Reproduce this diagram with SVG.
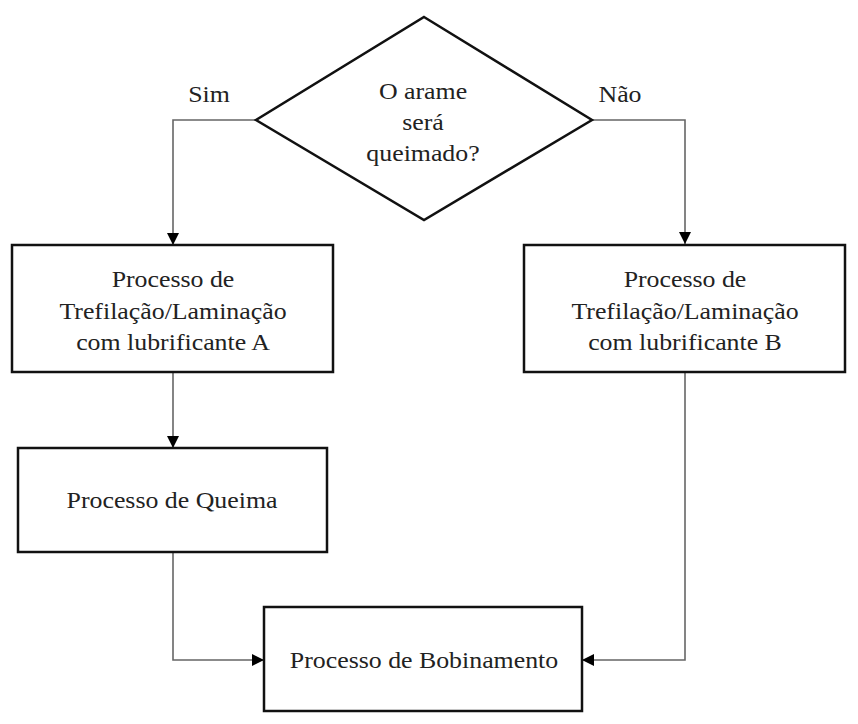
<svg xmlns="http://www.w3.org/2000/svg" width="858" height="724" viewBox="0 0 858 724">
<style>
.box{fill:#fff;stroke:#111;stroke-width:2.5}
.t{font-family:"Liberation Serif","Times New Roman",serif;font-size:23.5px;fill:#222;text-anchor:middle}
.c{fill:none;stroke:#666;stroke-width:1.6}
</style>
<defs>
<marker id="ah" viewBox="0 0 12 12" refX="12" refY="6" markerWidth="12" markerHeight="12" markerUnits="userSpaceOnUse" orient="auto">
<path d="M0,0 L12,6 L0,12 Z" fill="#000"/>
</marker>
</defs>
<rect width="858" height="724" fill="#fff"/>
<g id="connectors">
<polyline class="c" points="256,120 173,120 173,245" marker-end="url(#ah)"/>
<polyline class="c" points="592,120 685,120 685,244" marker-end="url(#ah)"/>
<polyline class="c" points="173,373 173,448" marker-end="url(#ah)"/>
<polyline class="c" points="173,552 173,660 264,660" marker-end="url(#ah)"/>
<polyline class="c" points="685,373 685,660 582,660" marker-end="url(#ah)"/>
</g>
<g id="decision">
<polygon class="box" points="424,17 592,120 424,220 256,120"/>
<text class="t" transform="translate(423,99) scale(1.1,1)">O arame</text>
<text class="t" transform="translate(423,130) scale(1.1,1)">será</text>
<text class="t" transform="translate(423,161) scale(1.1,1)">queimado?</text>
</g>
<g id="label-sim"><text class="t" transform="translate(209,102) scale(1.1,1)">Sim</text></g>
<g id="label-nao"><text class="t" transform="translate(620,102) scale(1.1,1)">Não</text></g>
<g id="boxA">
<rect class="box" x="12" y="245" width="321" height="127"/>
<text class="t" transform="translate(173,287) scale(1.1,1)">Processo de</text>
<text class="t" transform="translate(173,319) scale(1.1,1)">Trefilação/Laminação</text>
<text class="t" transform="translate(173,350) scale(1.1,1)">com lubrificante A</text>
</g>
<g id="boxB">
<rect class="box" x="524" y="245" width="321" height="127"/>
<text class="t" transform="translate(685,287) scale(1.1,1)">Processo de</text>
<text class="t" transform="translate(685,319) scale(1.1,1)">Trefilação/Laminação</text>
<text class="t" transform="translate(685,350) scale(1.1,1)">com lubrificante B</text>
</g>
<g id="queima">
<rect class="box" x="18" y="448" width="309" height="104"/>
<text class="t" transform="translate(172,508) scale(1.1,1)">Processo de Queima</text>
</g>
<g id="bobinamento">
<rect class="box" x="264" y="607" width="318" height="104"/>
<text class="t" transform="translate(424,668) scale(1.1,1)">Processo de Bobinamento</text>
</g>
</svg>
